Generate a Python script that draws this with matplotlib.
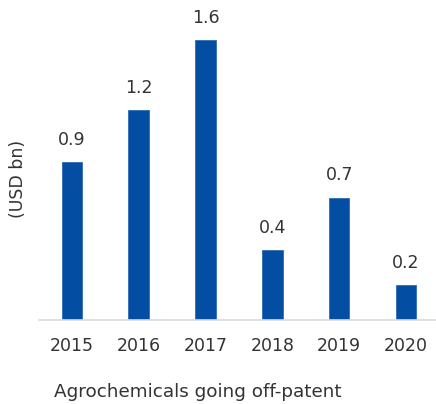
import matplotlib
matplotlib.use("Agg")
import matplotlib.pyplot as plt

years = ["2015", "2016", "2017", "2018", "2019", "2020"]
values = [0.9, 1.2, 1.6, 0.4, 0.7, 0.2]
value_labels = ["0.9", "1.2", "1.6", "0.4", "0.7", "0.2"]

plt.rcParams['font.family'] = ['DejaVu Sans']
FS = 12.5
TC = "#333333"
W, H = 436, 404
fig = plt.figure(figsize=(W / 100, H / 100), dpi=100)
ax_left, ax_right = 38.5 / W, 436 / W
ax_bottom, ax_top = (H - 320) / H, (H - 10) / H
ax = fig.add_axes([ax_left, ax_bottom, ax_right - ax_left, ax_top - ax_bottom])

x = list(range(len(years)))
ax.bar(x, values, width=0.31, color="#034EA2", edgecolor="#2F6BB5", linewidth=0.6)
for xi, v, lab in zip(x, values, value_labels):
    ax.annotate(lab, (xi, v), xytext=(0, 9.5), textcoords="offset points",
                ha="center", va="bottom", fontsize=FS, color=TC)

ax.set_xlim(-0.5, 5.45)
ax.set_ylim(0, 310 / 175)
ax.set_xticks(x)
ax.set_xticklabels(years, fontsize=FS, color=TC)
ax.tick_params(axis="x", length=0, pad=12)
ax.set_yticks([])
for s in ["top", "right", "left"]:
    ax.spines[s].set_visible(False)
ax.spines["bottom"].set_color("#D9D9D9")
ax.spines["bottom"].set_linewidth(1.2)

fig.text(18 / W, 1 - 179 / H, "(USD bn)", rotation=90, ha="center", va="center",
         fontsize=FS, color=TC)
fig.text(54 / W, 1 - 392 / H, "Agrochemicals going off-patent", ha="left", va="center",
         fontsize=13.2, color=TC)

fig.savefig("out.png", dpi=100)
